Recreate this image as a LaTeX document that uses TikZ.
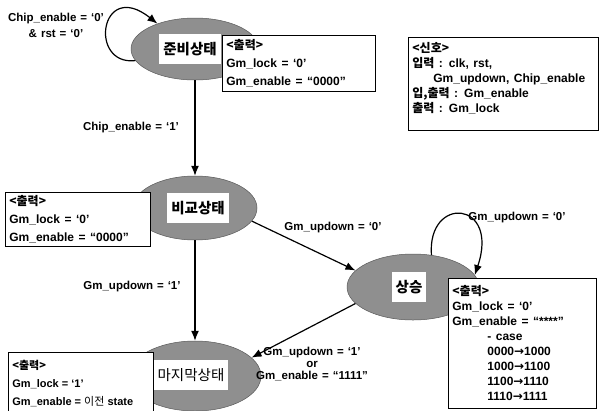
\documentclass[tikz,border=0pt]{standalone}
\usepackage{fontspec}
\setmainfont{Liberation Sans}
\newfontfamily\kr{Noto Sans CJK KR}
\newfontfamily\dv{DejaVu Sans}
\usetikzlibrary{shapes.geometric,arrows.meta}
\begin{document}
\lineskiplimit=-8pt
\begin{tikzpicture}[x=1pt,y=-1pt,
  state/.style={ellipse, fill=black!44, draw=black!65, line width=0.5pt, inner sep=0pt},
  stext/.style={fill=white, inner xsep=4pt, inner ysep=0pt, minimum height=30pt, font=\kr\bfseries\fontsize{14.5}{16}\selectfont},
  outbox/.style={draw=black, line width=0.8pt, fill=white, anchor=north west, align=left, inner xsep=4pt, inner ysep=0pt,
    font=\bfseries\fontsize{12}{18}\selectfont, execute at begin node={\spaceskip=4.5pt plus 1pt\relax}},
  tight/.style={font=\bfseries\fontsize{12}{15}\selectfont},
  lbl/.style={font=\bfseries\fontsize{11.5}{16}\selectfont, align=center, inner sep=0pt,
    execute at begin node={\spaceskip=4pt plus 1pt\relax}},
  arr/.style={line width=1.2pt, -{Latex[length=10pt,width=8pt]}}
]
\clip (0,0) rectangle (599,410);
\fill[white] (0,0) rectangle (599,410);

% states
\node[state, minimum width=128pt, minimum height=62pt] (e1) at (195,49) {};
\node[state, minimum width=124pt, minimum height=64pt] (e2) at (195,208) {};
\node[state, minimum width=132pt, minimum height=66pt] (e3) at (413,287) {};
\node[state, minimum width=132pt, minimum height=70pt] (e4) at (195,376) {};

\node[stext] (t1) at (190,49) {준비상태};
\node[stext] (t2) at (198,208) {비교상태};
\node[stext] (t3) at (409,287) {상승};
\node[stext, font=\kr\fontsize{14.5}{16}\selectfont] (t4) at (191,375) {마지막상태};

% transitions
\draw[arr] (e1) -- (e2);
\draw[arr] (e2.-13) -- (e3.164);
\draw[arr] (e2) -- (e4);
\draw[arr] (e3.196) -- (e4.18);
\draw[arr] (e1.191) .. controls (88,66) and (100,-22) .. (e1.146);
\draw[arr] (e3.60) .. controls (427,195) and (500,200) .. (e3.11);

% labels
\node[lbl] (l1) at (56,25) {Chip\_enable = `0'\\ \& rst = `0'};
\node[lbl] (l2) at (131,128) {Chip\_enable = `1'};
\node[lbl] (l3) at (333,228) {Gm\_updown = `0'};
\node[lbl] (l4) at (517,218) {Gm\_updown = `0'};
\node[lbl] (l5) at (132,287) {Gm\_updown = `1'};
\node[lbl, font=\bfseries\fontsize{11.5}{12}\selectfont] (l6) at (312,364) {Gm\_updown = `1'\\or\\Gm\_enable = ``1111''};

% output boxes
\node[outbox, text width=145pt, minimum height=56pt] (o1) at (222,35)
  {{\kr <출력>}\\Gm\_lock = `0'\\Gm\_enable = ``0000''};
\node[outbox, tight, text width=182pt, minimum height=93pt] (sig) at (408,37)
  {{\kr <신호>}\\{\kr 입력} : clk, rst,\\\hspace*{21pt}Gm\_updown, Chip\_enable\\{\kr 입,출력} : Gm\_enable\\{\kr 출력} : Gm\_lock\rule[-12pt]{0pt}{1pt}};
\node[outbox, text width=137pt, minimum height=54pt] (o2) at (5,192)
  {{\kr <출력>}\\Gm\_lock = `0'\\Gm\_enable = ``0000''};
\node[outbox, tight, text width=140pt, minimum height=130pt] (o3) at (448,278)
  {{\kr <출력>}\\Gm\_lock = `0'\\Gm\_enable = ``****''\\
   \hspace*{35pt}- case\\
   \hspace*{35pt}0000{\dv\bfseries →}1000\\
   \hspace*{35pt}1000{\dv\bfseries →}1100\\
   \hspace*{35pt}1100{\dv\bfseries →}1110\\
   \hspace*{35pt}1110{\dv\bfseries →}1111};
\node[outbox, text width=137pt, minimum height=62pt, font=\bfseries\fontsize{11}{18}\selectfont] (o4) at (8,352)
  {\spaceskip=0pt\relax{\kr <출력>}\\Gm\_lock = `1'\\Gm\_enable = {\kr\mdseries 이전} state};
\end{tikzpicture}
\end{document}
